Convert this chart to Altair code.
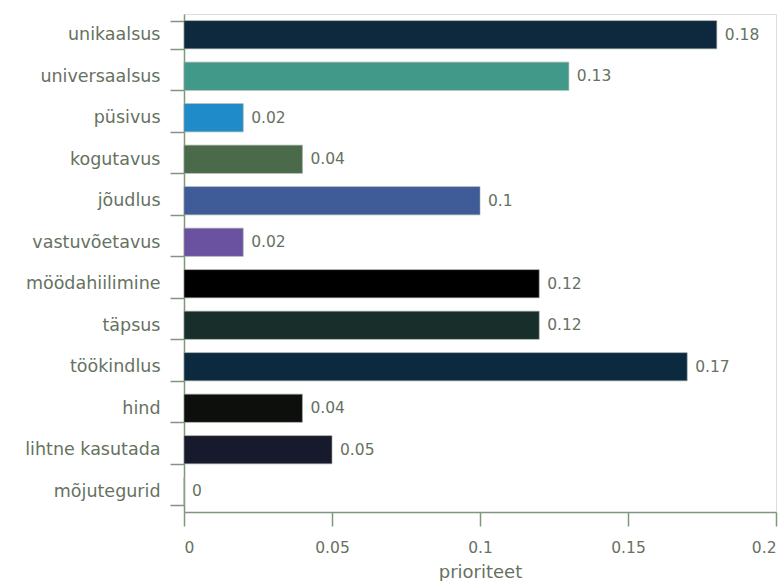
import altair as alt
import pandas as pd

categories = ["unikaalsus", "universaalsus", "püsivus", "kogutavus", "jõudlus",
              "vastuvõetavus", "möödahiilimine", "täpsus", "töökindlus", "hind",
              "lihtne kasutada", "mõjutegurid"]
values = [0.18, 0.13, 0.02, 0.04, 0.1, 0.02, 0.12, 0.12, 0.17, 0.04, 0.05, 0]
colors = ["#0e283d", "#41998a", "#1f8bc8", "#4a6a4a", "#3f5b98", "#6b52a1",
          "#000000", "#182e2a", "#0c2a3f", "#0c0f0b", "#171a2c", "#cccccc"]
x_ticks = [0, 0.05, 0.1, 0.15, 0.2]

df = pd.DataFrame({"cat": categories, "val": values, "col": colors})

TXT = "#66725f"
AX = "#7f977d"
FONT = "DejaVu Sans"

y_enc = alt.Y("cat:N", sort=categories, title=None,
              scale=alt.Scale(paddingInner=0.32, paddingOuter=0.16),
              axis=alt.Axis(tickBand="extent", tickSize=14, labelPadding=10,
                            labelFontSize=17.5, labelColor=TXT, labelFont=FONT,
                            domainColor=AX, tickColor=AX, domainWidth=1.5, tickWidth=1.5))
x_enc = alt.X("val:Q", title="prioriteet",
              scale=alt.Scale(domain=[0, 0.2], nice=False),
              axis=alt.Axis(values=x_ticks, grid=False, tickSize=14, labelPadding=14,
                            labelFontSize=15.5, labelColor=TXT, labelFont=FONT,
                            titleFontSize=18, titleColor=TXT, titleFont=FONT,
                            titleFontWeight="normal", titlePadding=8,
                            domainColor=AX, tickColor=AX, domainWidth=1.5, tickWidth=1.5,
                            format="~g"))

bars = alt.Chart(df).mark_bar(stroke="#9aa59a", strokeWidth=0.6).encode(
    y=y_enc, x=x_enc,
    color=alt.Color("col:N", scale=None),
)
labels = alt.Chart(df).mark_text(align="left", baseline="middle", dx=8,
                                 fontSize=15.5, color=TXT, font=FONT).encode(
    y=alt.Y("cat:N", sort=categories),
    x="val:Q",
    text=alt.Text("val:Q", format="~g"),
)

chart = alt.layer(bars, labels).properties(
    width=592, height=498,
    autosize=alt.AutoSizeParams(type="none"),
    padding={"left": 184, "top": 14, "right": 2, "bottom": 69},
).configure_view(stroke=None).configure(background="white")

chart.save("out.html", embed_options={"renderer": "svg", "actions": False})
